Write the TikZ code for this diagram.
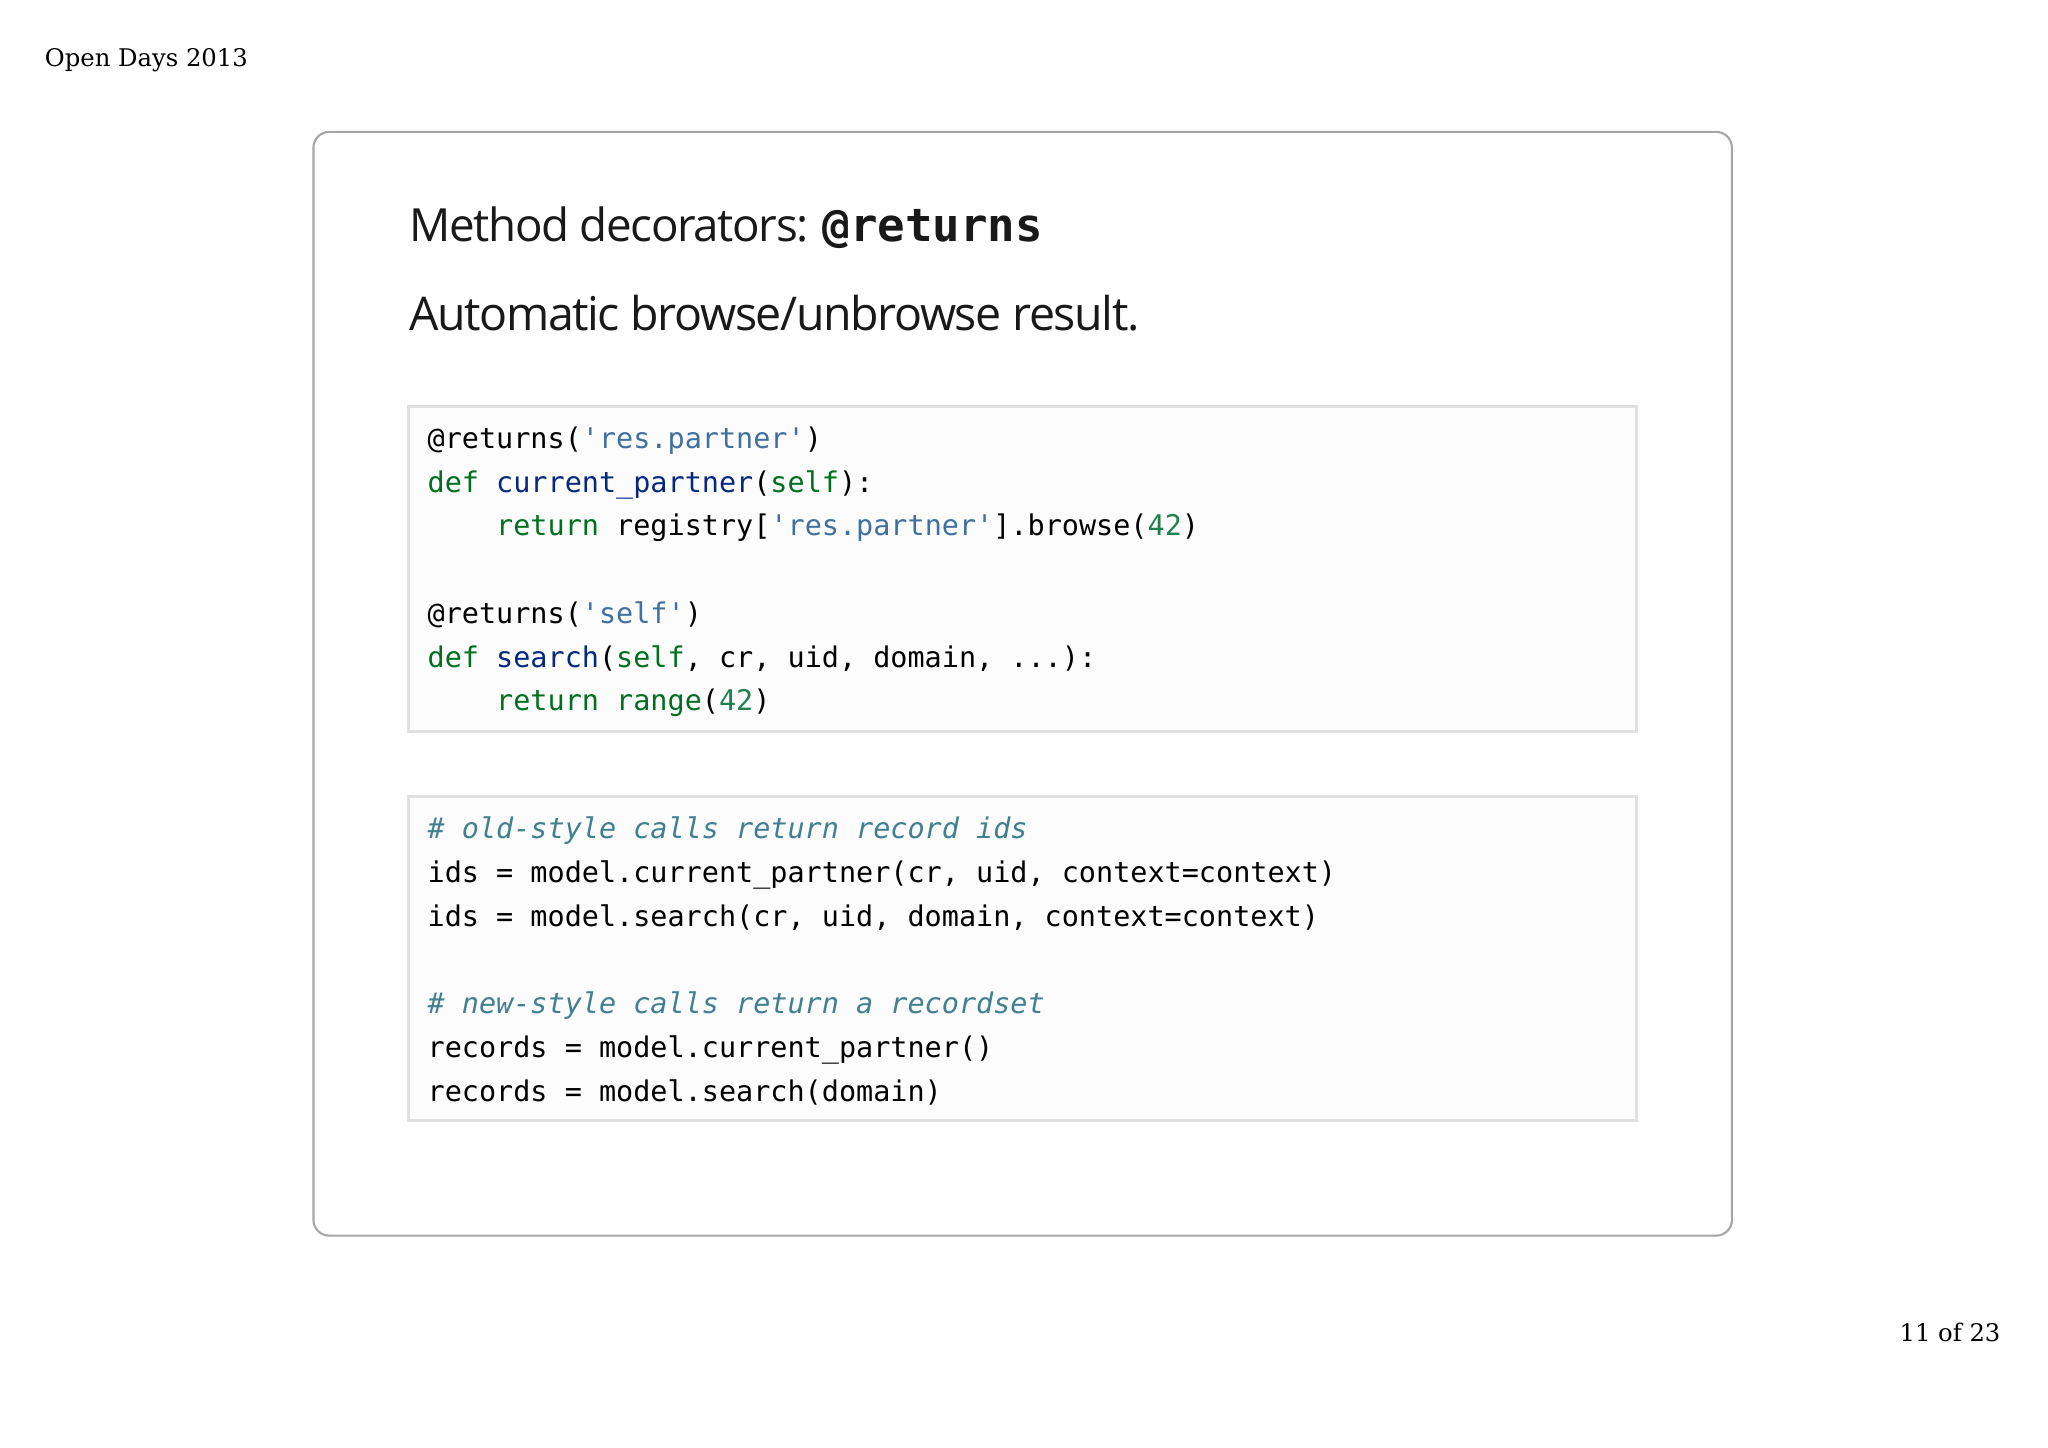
\documentclass[tikz,border=0pt]{standalone}
\usepackage{fontspec}
\setmainfont{DejaVu Serif}
\setsansfont{Open Sans}
\setmonofont{DejaVu Sans Mono}
\definecolor{kw}{HTML}{007020}
\definecolor{fn}{HTML}{06287E}
\definecolor{st}{HTML}{4070A0}
\definecolor{nu}{HTML}{208050}
\definecolor{cm}{HTML}{408090}
\newcommand{\K}[1]{\textcolor{kw}{#1}}
\newcommand{\F}[1]{\textcolor{fn}{#1}}
\newcommand{\Sx}[1]{\textcolor{st}{#1}}
\newcommand{\N}[1]{\textcolor{nu}{#1}}
\newcommand{\C}[1]{\textcolor{cm}{\itshape #1}}
\begin{document}
\begin{tikzpicture}[x=0.5pt,y=-0.5pt,
  code/.style={anchor=base west,inner sep=0,font=\ttfamily\fontsize{10.9}{12}\selectfont},
  box/.style={draw=black!12,line width=1.2pt,fill=black!1}]
\useasboundingbox (0,0) rectangle (1568,1108);
\node[anchor=base west,inner sep=0,font=\fontsize{9.3}{11}\selectfont] (hdr) at (34,51) {Open Days 2013};
\node[anchor=base east,inner sep=0,font=\fontsize{9.3}{11}\selectfont] (pg) at (1532,1027) {11 of 23};
\draw[black!35,line width=0.8pt,rounded corners=6pt,fill=white] (240,101) rectangle (1326,946);
\node[anchor=base west,inner sep=0,font=\sffamily\fontsize{17.5}{20}\selectfont,text=black!90] (t1) at (313,185)
 {\addfontfeatures{LetterSpace=-3}Method decorators: {\ttfamily\bfseries @returns}};
\node[anchor=base west,inner sep=0,font=\sffamily\fontsize{17.8}{20}\selectfont,text=black!90] (t2) at (313,253)
 {\addfontfeatures{LetterSpace=-3}Automatic browse/unbrowse result.};
\draw[box] (313,311) rectangle (1253,560);
\draw[box] (313,610) rectangle (1253,858);
\node[code] (a1) at (327,343) {@returns(\Sx{'res.partner'})};
\node[code] (a2) at (327,377) {\K{def} \F{current\_partner}(\K{self}):};
\node[code] (a3) at (327,410) {\phantom{xxxx}\K{return} registry[\Sx{'res.partner'}].browse(\N{42})};
\node[code] (a4) at (327,477) {@returns(\Sx{'self'})};
\node[code] (a5) at (327,511) {\K{def} \F{search}(\K{self}, cr, uid, domain, ...):};
\node[code] (a6) at (327,544) {\phantom{xxxx}\K{return} \K{range}(\N{42})};
\node[code] (b1) at (327,642) {\C{\# old-style calls return record ids}};
\node[code] (b2) at (327,676) {ids = model.current\_partner(cr, uid, context=context)};
\node[code] (b3) at (327,709) {ids = model.search(cr, uid, domain, context=context)};
\node[code] (b4) at (327,776) {\C{\# new-style calls return a recordset}};
\node[code] (b5) at (327,810) {records = model.current\_partner()};
\node[code] (b6) at (327,843) {records = model.search(domain)};
\end{tikzpicture}
\end{document}
